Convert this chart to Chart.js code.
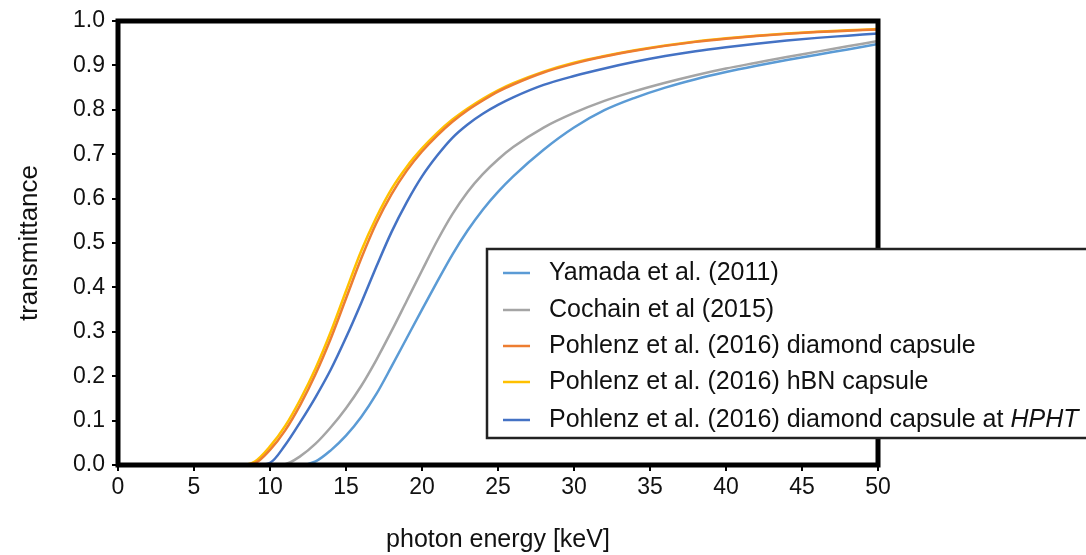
<!DOCTYPE html>
<html>
<head>
<meta charset="utf-8">
<script src="https://cdn.jsdelivr.net/npm/chart.js@4/dist/chart.umd.min.js"></script>
<style>
  html, body { margin: 0; padding: 0; background: #fff; }
  #wrap { width: 1086px; height: 555px; position: relative; }
</style>
</head>
<body>
<div id="wrap"><canvas id="graph"></canvas></div>
<script>
// photon energy in keV
const energies = [0, 5, 8, 9, 10, 11, 12, 13, 14, 15, 16, 17, 18, 19, 20, 21, 22, 23, 24, 25, 26,
                  28, 30, 32, 34, 36, 38, 40, 42, 44, 46, 48, 50];

// transmittance
const yamada   = [0, 0, 0, 0, 0, 0, 0, 0.008, 0.033, 0.066, 0.108, 0.16, 0.222, 0.286, 0.35, 0.413, 0.474, 0.528, 0.575, 0.615, 0.65,
                  0.71, 0.76, 0.799, 0.827, 0.85, 0.869, 0.885, 0.899, 0.912, 0.924, 0.936, 0.948];
const cochain  = [0, 0, 0, 0, 0, 0.002, 0.02, 0.048, 0.085, 0.128, 0.178, 0.237, 0.302, 0.37, 0.438, 0.505, 0.565, 0.615, 0.655, 0.688, 0.716,
                  0.76, 0.793, 0.82, 0.842, 0.861, 0.878, 0.893, 0.906, 0.919, 0.931, 0.943, 0.955];
const diamond  = [0, 0, 0, 0.004, 0.034, 0.078, 0.136, 0.205, 0.285, 0.375, 0.465, 0.545, 0.61, 0.663, 0.706, 0.742, 0.773, 0.799, 0.821, 0.841, 0.857,
                  0.884, 0.904, 0.92, 0.933, 0.944, 0.953, 0.96, 0.966, 0.971, 0.975, 0.978, 0.981];
const hbn      = [0, 0, 0, 0.008, 0.042, 0.088, 0.148, 0.218, 0.3, 0.392, 0.482, 0.558, 0.622, 0.672, 0.713, 0.748, 0.778, 0.803, 0.825, 0.844, 0.86,
                  0.886, 0.906, 0.921, 0.934, 0.945, 0.954, 0.961, 0.967, 0.972, 0.976, 0.979, 0.982];
const hpht     = [0, 0, 0, 0, 0.005, 0.045, 0.097, 0.153, 0.215, 0.287, 0.365, 0.447, 0.525, 0.592, 0.65, 0.697, 0.737, 0.767, 0.791, 0.811, 0.828,
                  0.856, 0.876, 0.893, 0.908, 0.921, 0.932, 0.941, 0.949, 0.956, 0.962, 0.967, 0.972];

const labels = ['Yamada et al. (2011)', 'Cochain et al (2015)', 'Pohlenz et al. (2016) diamond capsule',
                'Pohlenz et al. (2016) hBN capsule', 'Pohlenz et al. (2016) diamond capsule at HPHT'];
const colors = ['#5b9bd5', '#a5a5a5', '#ed7d31', '#ffc000', '#4472c4'];
const series = [yamada, cochain, diamond, hbn, hpht];

const FONT = "'Liberation Sans', Arial, sans-serif";
Chart.defaults.font.family = FONT;
Chart.defaults.color = '#111';

function toPoints(vals) {
    return vals.map((v, i) => ({x: energies[i], y: v}));
}

const datasets = series.map((s, i) => ({
    label: labels[i],
    data: toPoints(s),
    borderColor: colors[i],
    borderWidth: 2.5,
    pointRadius: 0,
    fill: false,
    cubicInterpolationMode: 'monotone'
}));

// black frame round the plot area
const frame = {
    id: 'frame',
    afterDatasetsDraw(chart) {
        const a = chart.chartArea;
        const ctx = chart.ctx;
        ctx.save();
        ctx.strokeStyle = '#000';
        ctx.lineWidth = 5;
        ctx.strokeRect(a.left, a.top, a.right - a.left, a.bottom - a.top);
        ctx.restore();
    }
};

// boxed legend over the lower right of the plot
const boxLegend = {
    id: 'boxLegend',
    afterDraw(chart) {
        const ctx = chart.ctx;
        const rows = [273, 310, 346, 382, 420];
        ctx.save();
        ctx.fillStyle = '#fff';
        ctx.fillRect(487, 249, 620, 189);
        ctx.strokeStyle = '#222';
        ctx.lineWidth = 2.5;
        ctx.strokeRect(487, 249, 620, 189);
        ctx.textBaseline = 'middle';
        ctx.textAlign = 'left';
        chart.data.datasets.forEach((ds, i) => {
            const y = rows[i];
            ctx.strokeStyle = ds.borderColor;
            ctx.lineWidth = 2.5;
            ctx.beginPath();
            ctx.moveTo(503, y);
            ctx.lineTo(530, y);
            ctx.stroke();
            ctx.fillStyle = '#111';
            let txt = ds.label;
            let ital = '';
            if (txt.endsWith('HPHT')) {
                ital = 'HPHT';
                txt = txt.slice(0, -4);
            }
            ctx.font = '25px ' + FONT;
            ctx.fillText(txt, 549, y);
            if (ital) {
                const w = ctx.measureText(txt).width;
                ctx.font = 'italic 25px ' + FONT;
                ctx.fillText(ital, 549 + w, y);
            }
        });
        ctx.restore();
    }
};

const config = {
    type: 'line',
    data: {datasets: datasets},
    options: {
        responsive: true,
        maintainAspectRatio: false,
        animation: false,
        layout: {padding: {top: 21, right: 208, bottom: 0, left: 0}},
        plugins: {legend: {display: false}, tooltip: {enabled: false}},
        scales: {
            x: {
                type: 'linear',
                min: 0,
                max: 50,
                ticks: {stepSize: 5, font: {size: 23}, padding: 3, maxRotation: 0, color: '#111'},
                grid: {drawOnChartArea: false, drawTicks: true, tickLength: 6, color: '#000', lineWidth: 2},
                border: {display: false},
                title: {display: true, text: 'photon energy [keV]', font: {size: 25}, color: '#111', padding: {top: 0, bottom: 0}},
                afterFit(scale) { scale.height = 90; }
            },
            y: {
                min: 0,
                max: 1,
                ticks: {stepSize: 0.1, font: {size: 23}, padding: 7, color: '#111',
                        callback: v => v.toFixed(1)},
                grid: {drawOnChartArea: false, drawTicks: true, tickLength: 6, color: '#000', lineWidth: 2},
                border: {display: false},
                title: {display: true, text: 'transmittance', font: {size: 26}, color: '#111', padding: {top: 14, bottom: 0}},
                afterFit(scale) { scale.width = 118; }
            }
        }
    },
    plugins: [frame, boxLegend]
};

new Chart(document.getElementById('graph'), config);
</script>
</body>
</html>
